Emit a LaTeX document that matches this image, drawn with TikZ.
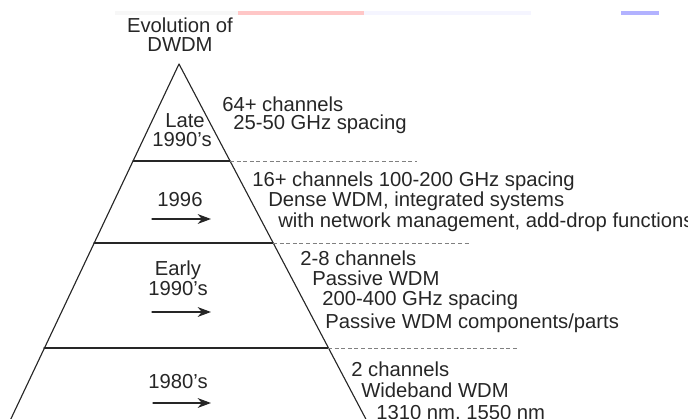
\documentclass[tikz,border=0pt]{standalone}
\usepackage{fontspec}
\setmainfont{Liberation Sans}
\usetikzlibrary{arrows.meta}
\begin{document}
\begin{tikzpicture}[x=0.025cm,y=-0.025cm, line join=round, line cap=round,
  every node/.style={inner sep=0pt, text=black!85, font=\fontsize{14.4}{17}\selectfont},
  txt/.style={anchor=base west},
  yr/.style={anchor=base},
  dashline/.style={dash pattern=on 2.8pt off 1.9pt, gray, line cap=butt, line width=0.6pt},
  era/.style={-{Stealth[length=9.5pt,width=7pt,inset=3pt]}, line width=0.9pt, black!85}]
\useasboundingbox (0,0) rectangle (688,419);
% faint bar at the top
\fill[black!3] (115,11) rectangle (238,15);
\fill[red!22] (238,11) rectangle (364,15);
\fill[blue!4] (364,11) rectangle (531,15);
\fill[blue!30] (621,11) rectangle (659,15);
% pyramid
\draw[line width=0.8pt, black!85] (8,425)--(179,64)--(369,425);
\draw[line width=0.8pt, black!85] (133,161)--(230,161) (94,243)--(273,243) (44,348)--(328,348);
\draw[dashline] (230,161)--(417,161) (273,243)--(469,243) (328,348)--(517,348);
% title
\node[yr] (title1) at (180,33) {Evolution of};
\node[yr] (title2) at (180,52) {DWDM};
% late 1990's
\node[yr] (late1) at (185,128) {Late};
\node[yr] (late2) at (182,147) {1990's};
\node[txt] (late3) at (222,112) {64+ channels};
\node[txt] (late4) at (233,130) {25-50 GHz spacing};
% 1996
\node[yr] (mid1) at (180,207) {1996};
\coordinate (mids) at (152,219); \coordinate (mide) at (211,219);
\draw[era] (mids)--(mide);
\node[txt] (mid2) at (252,187) {16+ channels 100-200 GHz spacing};
\node[txt] (mid3) at (268,207) {Dense WDM, integrated systems};
\node[txt] (mid4) at (278,228) {with network management, add-drop functions};
% early 1990's
\node[yr] (early1) at (178,275) {Early};
\node[yr] (early2) at (178,295) {1990's};
\coordinate (earlys) at (152,312); \coordinate (earlye) at (211,312);
\draw[era] (earlys)--(earlye);
\node[txt] (early3) at (300,265) {2-8 channels};
\node[txt] (early4) at (312,285) {Passive WDM};
\node[txt] (early5) at (322,305) {200-400 GHz spacing};
\node[txt] (early6) at (325,328) {Passive WDM components/parts};
% 1980's
\node[yr] (old1) at (178,388) {1980's};
\coordinate (olds) at (153,403); \coordinate (olde) at (211,403);
\draw[era] (olds)--(olde);
\node[txt] (old2) at (351,376) {2 channels};
\node[txt] (old3) at (361,397) {Wideband WDM};
\node[txt] (old4) at (376,419) {1310 nm, 1550 nm};
\end{tikzpicture}
\end{document}
